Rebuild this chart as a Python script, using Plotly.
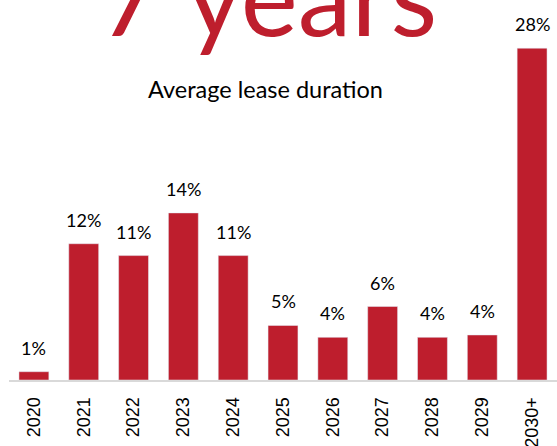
import plotly.graph_objects as go

categories = ["2020", "2021", "2022", "2023", "2024", "2025", "2026", "2027", "2028", "2029", "2030+"]
values = [0.7, 11.5, 10.5, 14.1, 10.5, 4.6, 3.6, 6.2, 3.6, 3.8, 28.0]
labels = ["1%", "12%", "11%", "14%", "11%", "5%", "4%", "6%", "4%", "4%", "28%"]
headline = "7 years"
subtitle = "Average lease duration"

RED = "#BE1E2D"

fig = go.Figure()
fig.add_trace(go.Bar(x=categories, y=values, marker=dict(color=RED), width=0.6,
                     hoverinfo="skip"))

annotations = []
for i, (v, t) in enumerate(zip(values, labels)):
    annotations.append(dict(x=i, y=v, xref="x", yref="y", text=t, showarrow=False,
                            yanchor="middle", yshift=24,
                            font=dict(family="Lato", size=18, color="#000000")))
annotations.append(dict(x=0.473, y=1 + 6/380, xref="paper", yref="paper", text=headline,
                        showarrow=False, xanchor="center", yanchor="middle",
                        font=dict(family="Lato", size=108, color=RED)))
annotations.append(dict(x=0.468, y=1 - 89/380, xref="paper", yref="paper", text=subtitle,
                        showarrow=False, xanchor="center", yanchor="middle",
                        font=dict(family="Lato", size=23.5, color="#000000")))

fig.update_layout(
    width=557, height=446,
    margin=dict(l=9, r=0, t=0, b=66, autoexpand=False),
    paper_bgcolor="white", plot_bgcolor="white",
    showlegend=False,
    annotations=annotations,
    xaxis=dict(type="category", range=[-0.5, len(categories) - 0.5], automargin=False,
               showline=True, linecolor="#D9D9D9", linewidth=2,
               showgrid=False, ticks="", tickangle=-90, ticklabelstandoff=8,
               tickfont=dict(family="Liberation Sans", size=18, color="#000000")),
    yaxis=dict(range=[0, 380/11.85], visible=False, showgrid=False, zeroline=False,
               automargin=False),
)

fig.write_html("out.html", config={"displayModeBar": False},
               post_script="document.body.style.margin='0';document.body.style.overflow='hidden';")
